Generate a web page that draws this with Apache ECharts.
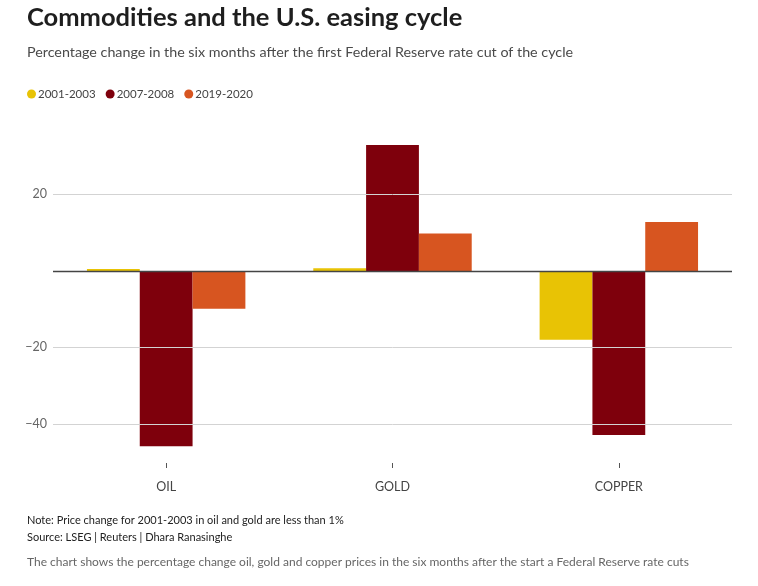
<!DOCTYPE html>
<html>
<head>
<meta charset="utf-8">
<script src="https://cdn.jsdelivr.net/npm/echarts@6/dist/echarts.min.js"></script>
<style>
html,body{margin:0;padding:0;background:#fff;}
#chart{width:758px;height:586px;}
</style>
</head>
<body>
<div id="chart"></div>
<script>
var categories = ['OIL', 'GOLD', 'COPPER'];
var seriesNames = ['2001-2003', '2007-2008', '2019-2020'];
var values2001 = [0.5, 0.7, -18.0];
var values2007 = [-45.8, 32.9, -42.9];
var values2019 = [-9.9, 9.8, 12.8];
var yTickLabels = [20, -20, -40];
var colors = ['#E8C305', '#7E000C', '#D75520'];

var FONT = 'Lato, "Noto Sans", sans-serif';
var chart = echarts.init(document.getElementById('chart'), null, {renderer: 'canvas'});

var gridLineData = yTickLabels.map(function (v) { return {yAxis: v}; });

function mk(name, data, color, extra) {
  var s = {
    name: name, type: 'bar', data: data,
    itemStyle: {color: color},
    barGap: '0%', barCategoryGap: '30%',
    emphasis: {disabled: true}
  };
  if (extra) s.markLine = extra;
  return s;
}

var option = {
  animation: false,
  textStyle: {fontFamily: FONT},
  graphic: [
    {type: 'text', left: 27, top: 5, style: {text: 'Commodities and the U.S. easing cycle', font: 'bold 25.5px ' + FONT, fill: '#1e1e1e'}},
    {type: 'text', left: 27, top: 45, style: {text: 'Percentage change in the six months after the first Federal Reserve rate cut of the cycle', font: '14.3px ' + FONT, fill: '#4a4a4a'}},
    {type: 'text', left: 27, top: 515, style: {text: 'Note: Price change for 2001-2003 in oil and gold are less than 1%', font: '11px ' + FONT, fill: '#222'}},
    {type: 'text', left: 27, top: 532, style: {text: 'Source: LSEG | Reuters | Dhara Ranasinghe', font: '11px ' + FONT, fill: '#222'}},
    {type: 'text', left: 27, top: 556, style: {text: 'The chart shows the percentage change oil, gold and copper prices in the six months after the start a Federal Reserve rate cuts', font: '12px ' + FONT, fill: '#666'}}
  ],
  legend: {
    left: 22, top: 83,
    icon: 'circle', itemWidth: 9, itemHeight: 9, itemGap: 10,
    textStyle: {fontSize: 11.5, color: '#444', fontFamily: FONT, padding: [0, 0, 0, -3]},
    data: seriesNames
  },
  grid: {left: 53, right: 26, top: 137, height: 326, containLabel: false},
  xAxis: {
    type: 'category', data: categories,
    axisLine: {show: false, onZero: false},
    axisTick: {show: true, alignWithLabel: true, length: 5, lineStyle: {color: '#555'}},
    axisLabel: {color: '#444', fontSize: 12.5, margin: 17, fontFamily: FONT},
    position: 'bottom'
  },
  yAxis: {
    type: 'value', min: -50.2, max: 35,
    splitLine: {show: false},
    axisLine: {show: false}, axisTick: {show: false},
    axisLabel: {
      customValues: yTickLabels,
      color: '#666', fontSize: 12.5, margin: 6, fontFamily: FONT,
      formatter: function (v) { return v < 0 ? '\u2212' + Math.abs(v) : String(v); }
    }
  },
  series: [
    mk(seriesNames[0], values2001, colors[0], {
      silent: true, symbol: ['none', 'none'], label: {show: false},
      lineStyle: {color: '#d3d3d3', type: 'solid', width: 1},
      data: gridLineData
    }),
    mk(seriesNames[1], values2007, colors[1]),
    mk(seriesNames[2], values2019, colors[2], {
      silent: true, symbol: ['none', 'none'], label: {show: false},
      lineStyle: {color: '#444', type: 'solid', width: 1.3},
      data: [{yAxis: 0}]
    })
  ]
};
chart.setOption(option);
</script>
</body>
</html>
